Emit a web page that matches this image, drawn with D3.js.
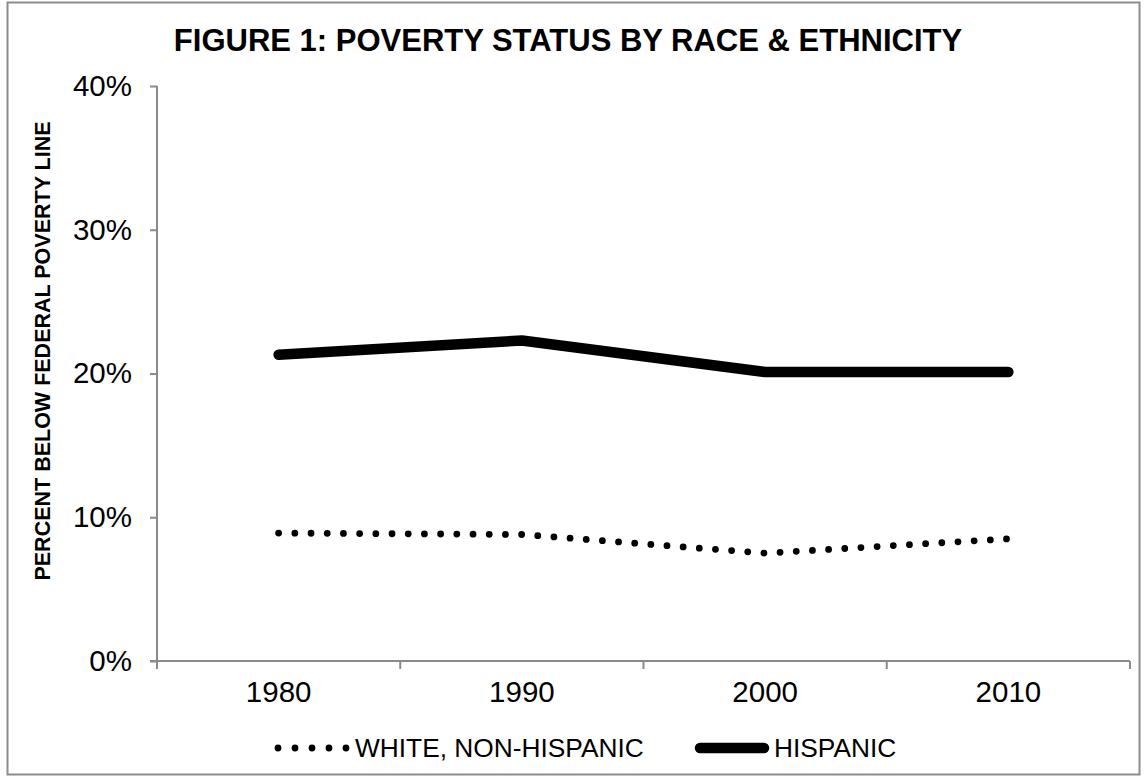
<!DOCTYPE html>
<html>
<head>
<meta charset="utf-8">
<script src="https://cdn.jsdelivr.net/npm/d3@7"></script>
<style>
  html, body { margin: 0; padding: 0; background: #fff; }
  svg text { font-family: "Liberation Sans", Arial, Helvetica, sans-serif; fill: #000; }
</style>
</head>
<body>
<svg id="chart" width="1147" height="782"></svg>
<script>
const years = ["1980", "1990", "2000", "2010"];
const whiteNonHispanic = [8.9, 8.8, 7.5, 8.5];
const hispanic = [21.3, 22.3, 20.1, 20.1];
const yTicks = [0, 10, 20, 30, 40];
const seriesNames = ["WHITE, NON-HISPANIC", "HISPANIC"];
const titleText = "FIGURE 1: POVERTY STATUS BY RACE & ETHNICITY";
const yAxisTitle = "PERCENT BELOW FEDERAL POVERTY LINE";

const svg = d3.select("#chart");
const axisColor = "#8a8a8a";

// outer border
svg.append("rect")
  .attr("x", 7.5).attr("y", 2.5).attr("width", 1132).attr("height", 772)
  .attr("fill", "#fff").attr("stroke", "#8c8c8c").attr("stroke-width", 2);

const x = d3.scaleBand().domain(years).range([157, 1130]).paddingInner(0).paddingOuter(0);
const y = d3.scaleLinear().domain([0, 40]).range([661, 86]);

// title
svg.append("text")
  .attr("x", 568).attr("y", 51)
  .attr("text-anchor", "middle")
  .attr("font-size", 31).attr("font-weight", "bold")
  .text(titleText);

// y axis
const yAxis = svg.append("g")
  .attr("transform", "translate(157,0)")
  .call(d3.axisLeft(y).tickValues(yTicks).tickSize(7).tickPadding(18).tickFormat(d => d + "%"));
yAxis.select(".domain").attr("stroke", axisColor).attr("stroke-width", 2)
  .attr("d", `M0,${y(40)}V${y(0)}`);
yAxis.selectAll(".tick line").attr("stroke", axisColor).attr("stroke-width", 2);
yAxis.selectAll(".tick text").attr("font-size", 29.5).attr("fill", "#000")
  .style("font-family", '"Liberation Sans", Arial, sans-serif');

// x axis
const xAxis = svg.append("g")
  .attr("transform", "translate(0,661)")
  .call(d3.axisBottom(x).tickSize(0).tickPadding(20));
xAxis.select(".domain").attr("stroke", axisColor).attr("stroke-width", 2)
  .attr("d", `M${x.range()[0] - 7},0H${x.range()[1]}`);
xAxis.selectAll(".tick text").attr("font-size", 29.5).attr("fill", "#000")
  .style("font-family", '"Liberation Sans", Arial, sans-serif');
// boundary ticks between categories
const boundaries = years.map(d => x(d)).concat([x.range()[1]]);
xAxis.selectAll(".bound").data(boundaries).enter().append("line")
  .attr("class", "bound")
  .attr("x1", d => d).attr("x2", d => d)
  .attr("y1", 0).attr("y2", 8)
  .attr("stroke", axisColor).attr("stroke-width", 2);

// y axis title
svg.append("text")
  .attr("transform", "translate(50,351) rotate(-90)")
  .attr("text-anchor", "middle")
  .attr("font-size", 21.5).attr("font-weight", "bold")
  .text(yAxisTitle);

const cx = d => x(d) + x.bandwidth() / 2;
const line = d3.line().x(d => cx(d.year)).y(d => y(d.v));

const whiteData = years.map((yr, i) => ({ year: yr, v: whiteNonHispanic[i] }));
const hispData = years.map((yr, i) => ({ year: yr, v: hispanic[i] }));

svg.append("path").datum(whiteData)
  .attr("d", line)
  .attr("fill", "none").attr("stroke", "#000")
  .attr("stroke-width", 6.8).attr("stroke-linecap", "round")
  .attr("stroke-dasharray", "0,16.2");

svg.append("path").datum(hispData)
  .attr("d", line)
  .attr("fill", "none").attr("stroke", "#000")
  .attr("stroke-width", 10.5).attr("stroke-linecap", "round").attr("stroke-linejoin", "round");

// legend
const legY = 748;
const leg = svg.append("g");
leg.append("line")
  .attr("x1", 278).attr("x2", 346.5).attr("y1", legY).attr("y2", legY)
  .attr("stroke", "#000").attr("stroke-width", 6.8).attr("stroke-linecap", "round")
  .attr("stroke-dasharray", "0,17");
leg.append("text")
  .attr("x", 355).attr("y", legY).attr("dy", "0.36em")
  .attr("font-size", 26.3).text(seriesNames[0]);
leg.append("line")
  .attr("x1", 700).attr("x2", 764).attr("y1", legY).attr("y2", legY)
  .attr("stroke", "#000").attr("stroke-width", 10.5).attr("stroke-linecap", "round");
leg.append("text")
  .attr("x", 774).attr("y", legY).attr("dy", "0.36em")
  .attr("font-size", 26.3).text(seriesNames[1]);
</script>
</body>
</html>
